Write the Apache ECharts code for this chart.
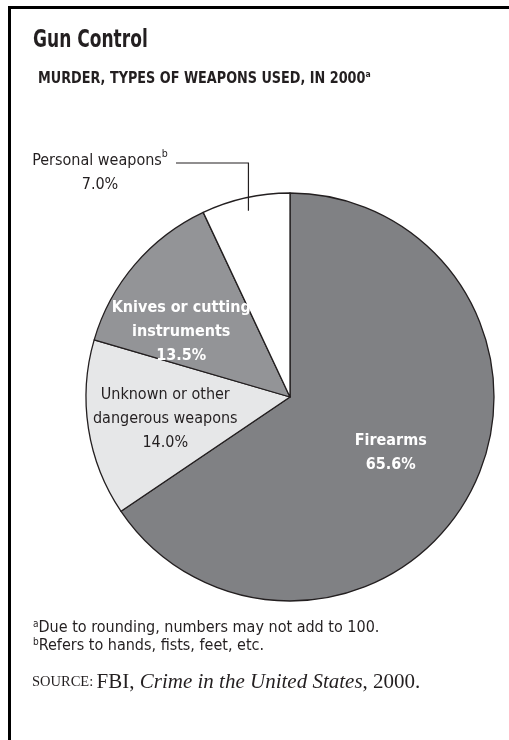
<!DOCTYPE html>
<html>
<head>
<meta charset="utf-8">
<script src="https://cdn.jsdelivr.net/npm/echarts@6/dist/echarts.min.js"></script>
<style>
  html, body { margin: 0; padding: 0; background: #ffffff; }
  #chart { width: 509px; height: 740px; }
</style>
</head>
<body>
<div id="chart"></div>
<script>
// Murder victims by type of weapon used, 2000 (percent of total)
const categories = ['Firearms', 'Unknown or other\ndangerous weapons', 'Knives or cutting\ninstruments', 'Personal weapons'];
const shares = [65.6, 14.0, 13.5, 7.0];
const sliceColors = ['#808184', '#e6e7e8', '#939497', '#ffffff'];
const footnoteMarks = ['', '', '', 'b'];

const NARROW = "'Liberation Sans Narrow', 'DejaVu Sans Condensed', 'Arial Narrow', sans-serif";
const SERIF = "'Liberation Serif', 'DejaVu Serif', serif";
const INK = '#231f20';

// label styling per slice: bold white on the dark slices, regular dark elsewhere
const labelStyle = ['w', 'd', 'w', 'd'];
// nudge of each label from the slice's default inner anchor
const labelShift = [[4, 3.5], [-10.5, 3], [-14.5, 1.5], null];

function sliceLabel(i) {
  const tag = labelStyle[i];
  const lines = categories[i].split('\n').map(s => '{' + tag + '|' + s + '}');
  if (footnoteMarks[i]) lines[lines.length - 1] += '{sup|' + footnoteMarks[i] + '}';
  lines.push('{' + tag + '|' + shares[i].toFixed(1) + '%}');
  return lines.join('\n');
}

const chart = echarts.init(document.getElementById('chart'), null, { renderer: 'canvas' });

const option = {
  animation: false,
  backgroundColor: '#ffffff',
  series: [{
    type: 'pie',
    center: [290, 397],
    radius: 204,
    startAngle: 90,
    clockwise: true,
    silent: true,
    itemStyle: { borderColor: INK, borderWidth: 1.3 },
    label: {
      show: true,
      position: 'inside',
      formatter: p => sliceLabel(p.dataIndex),
      rich: {
        w: { fontFamily: NARROW, fontWeight: 'bold', fontSize: 16, color: '#ffffff', lineHeight: 24, align: 'center' },
        d: { fontFamily: NARROW, fontSize: 16, color: INK, lineHeight: 24, align: 'center' },
        sup: { fontFamily: NARROW, fontSize: 10.5, color: INK, verticalAlign: 'top', lineHeight: 24 }
      }
    },
    labelLine: { show: false },
    labelLayout: function (params) {
      const s = labelShift[params.dataIndex];
      if (s) return { dx: s[0], dy: s[1] };
      // the smallest slice is labelled outside, above-left of the pie
      return { x: 100, y: 173, align: 'center', verticalAlign: 'middle' };
    },
    data: shares.map((v, i) => ({
      name: categories[i],
      value: v,
      itemStyle: { color: sliceColors[i] }
    }))
  }],
  graphic: [
    // frame rules on the top and left
    { type: 'polyline', silent: true, shape: { points: [[9.5, 740], [9.5, 7.5], [509, 7.5]] },
      style: { stroke: '#000000', lineWidth: 3, fill: null } },
    { type: 'text', x: 33, y: 29, scaleX: 0.79, silent: true,
      style: { text: 'Gun Control', font: 'bold 24px ' + NARROW, fill: INK, verticalAlign: 'top' } },
    { type: 'text', x: 38, y: 70, scaleX: 0.95, silent: true,
      style: {
        text: '{t|MURDER, TYPES OF WEAPONS USED, IN 2000}{s|a}',
        verticalAlign: 'top',
        rich: {
          t: { fontFamily: NARROW, fontWeight: 'bold', fontSize: 15, fill: INK, lineHeight: 18 },
          s: { fontFamily: NARROW, fontWeight: 'bold', fontSize: 9, fill: INK, verticalAlign: 'top', lineHeight: 18 }
        }
      } },
    { type: 'text', x: 33, y: 619, silent: true,
      style: {
        text: '{s|a}{t|Due to rounding, numbers may not add to 100.}\n{s|b}{t|Refers to hands, fists, feet, etc.}',
        verticalAlign: 'top',
        rich: {
          t: { fontFamily: NARROW, fontSize: 16, fill: INK, lineHeight: 18 },
          s: { fontFamily: NARROW, fontSize: 10, fill: INK, verticalAlign: 'top', lineHeight: 18 }
        }
      } },
    { type: 'text', x: 32, y: 671, silent: true,
      style: {
        text: '{sc|SOURCE:} {r|FBI, }{i|Crime in the United States}{r|, 2000.}',
        verticalAlign: 'top',
        rich: {
          sc: { fontFamily: SERIF, fontSize: 14.5, fill: INK, lineHeight: 22 },
          r: { fontFamily: SERIF, fontSize: 21, fill: INK, lineHeight: 22 },
          i: { fontFamily: SERIF, fontSize: 21, fontStyle: 'italic', fill: INK, lineHeight: 22 }
        }
      } }
  ]
};

chart.setOption(option);

// Leader line for the outside label: from inside the slice at its mid-angle,
// straight up, then across to the label text.
(function addLeader() {
  const idx = shares.length - 1;
  const data = chart.getModel().getSeriesByIndex(0).getData();
  const lay = data.getItemLayout(idx);
  const mid = (lay.startAngle + lay.endAngle) / 2;
  const ax = lay.cx + lay.r * 0.935 * Math.cos(mid);
  const ay = lay.cy + lay.r * 0.935 * Math.sin(mid);
  const labelRight = 176;
  const elbowY = 163;
  const g = option.graphic.slice();
  g.push({ type: 'polyline', silent: true, z: 100,
    shape: { points: [[ax, ay], [ax, elbowY], [labelRight, elbowY]] },
    style: { stroke: INK, lineWidth: 1.2, fill: null } });
  chart.setOption({ graphic: g }, { replaceMerge: ['graphic'] });
})();
</script>
</body>
</html>
